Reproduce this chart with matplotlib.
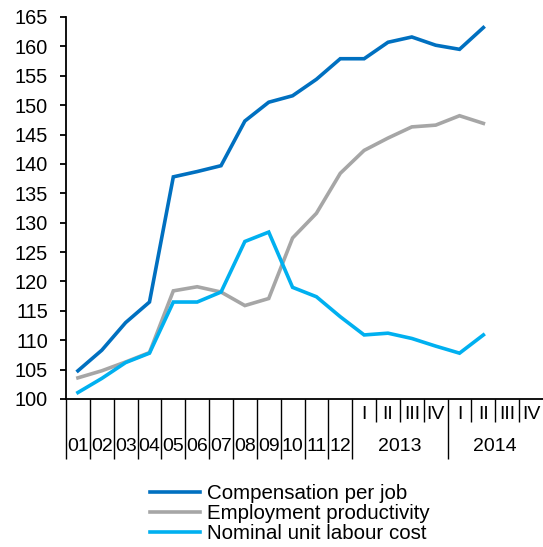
import matplotlib

matplotlib.use("Agg")

import matplotlib.pyplot as plt  # noqa: E402
import numpy as np  # noqa: E402

# --- Datos ---
years = ["01", "02", "03", "04", "05", "06", "07", "08", "09", "10", "11", "12"]
quarters = ["I", "II", "III", "IV", "I", "II", "III", "IV"]
quarter_years = ["2013", "2014"]

compensation = [104.8, 108.3, 113.0, 116.5, 137.8, 138.7, 139.7, 147.3, 150.5, 151.6,
                154.4, 157.9, 157.9, 160.7, 161.6, 160.2, 159.5, 163.2]
productivity = [103.6, 104.8, 106.3, 107.9, 118.4, 119.1, 118.2, 115.9, 117.1, 127.4,
                131.6, 138.4, 142.3, 144.4, 146.3, 146.6, 148.2, 146.9]
ulc = [101.1, 103.5, 106.2, 107.8, 116.5, 116.5, 118.2, 126.8, 128.4, 119.0,
       117.4, 114.0, 110.9, 111.2, 110.3, 109.0, 107.8, 110.9]

series = [
    ("Compensation per job", compensation, "#0070C0"),
    ("Employment productivity", productivity, "#A6A6A6"),
    ("Nominal unit labour cost", ulc, "#00B0F0"),
]

plt.rcParams["font.family"] = ["Liberation Sans", "DejaVu Sans"]
plt.rcParams["font.size"] = 14

fig = plt.figure(figsize=(5.43, 5.47), dpi=100)
ax = fig.add_axes([66 / 543, 148 / 547, 477 / 543, 382 / 547])

n_cat = len(years) + len(quarters)
for label, values, color in series:
    ax.plot(np.arange(len(values)), values, color=color, lw=2.6, label=label,
            solid_joinstyle="miter", clip_on=False)

ax.set_xlim(-0.5, n_cat - 0.5)
ax.set_ylim(100, 165)
ax.set_yticks(np.arange(100, 166, 5))
ax.tick_params(axis="y", direction="out", length=4, width=1.3, pad=9, labelsize=14.3)

for side in ("top", "right"):
    ax.spines[side].set_visible(False)
ax.spines["left"].set_linewidth(1.3)
ax.spines["bottom"].set_linewidth(1.3)

# Eje X multinivel: ticks largos entre años, cortos entre trimestres
long_ticks = list(np.arange(-0.5, len(years) + 0.5, 1.0)) + [len(years) + 3.5]
short_ticks = [len(years) + i - 0.5 for i in (1, 2, 3, 5, 6, 7)]
ax.set_xticks(long_ticks)
ax.set_xticks(short_ticks, minor=True)
ax.set_xticklabels([])
ax.tick_params(axis="x", which="major", direction="out", length=43, width=1.0)
ax.tick_params(axis="x", which="minor", direction="out", length=16.5, width=1.0)

for i, lab in enumerate(years):
    ax.annotate(lab, xy=(i, 0), xycoords=("data", "axes fraction"),
                xytext=(0, -34.5), textcoords="offset points",
                ha="center", va="center", fontsize=14)
for i, lab in enumerate(quarters):
    ax.annotate(lab, xy=(len(years) + i, 0), xycoords=("data", "axes fraction"),
                xytext=(0, -11.5), textcoords="offset points",
                ha="center", va="center", fontsize=14)
for j, lab in enumerate(quarter_years):
    ax.annotate(lab, xy=(len(years) + 4 * j + 1.5, 0), xycoords=("data", "axes fraction"),
                xytext=(0, -34.5), textcoords="offset points",
                ha="center", va="center", fontsize=14)

fig.legend(loc="upper left", bbox_to_anchor=(150 / 543, 1 - 484 / 547), frameon=False,
           fontsize=14.8, handlelength=2.45, handletextpad=0.3, labelspacing=0.05,
           borderpad=0, borderaxespad=0)

fig.savefig("out.png", dpi=100)
plt.close(fig)
